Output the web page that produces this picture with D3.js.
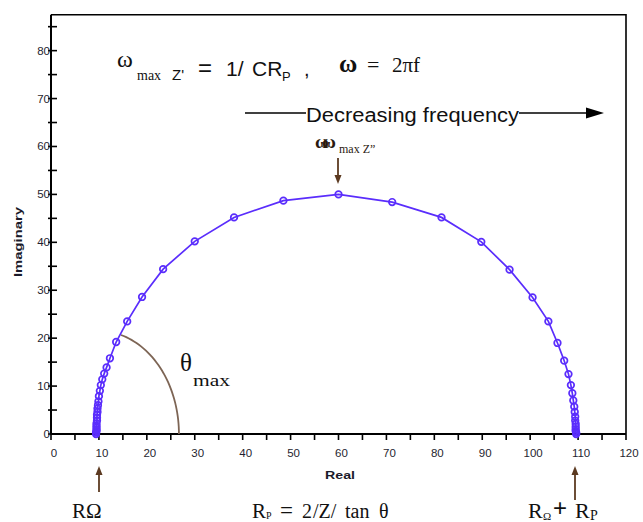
<!DOCTYPE html>
<html>
<head>
<meta charset="utf-8">
<script src="https://cdn.jsdelivr.net/npm/d3@7"></script>
<style>
  html, body { margin: 0; padding: 0; background: #fff; }
  svg { display: block; }
  .serif { font-family: "Liberation Serif", "Times New Roman", serif; }
  .sans { font-family: "Liberation Sans", Arial, sans-serif; }
</style>
</head>
<body>
<svg id="chart" width="643" height="522"></svg>
<script>
// Nyquist plot: real vs imaginary impedance, high frequency on the left
const realZ = [
  9.4, 9.4, 9.5, 9.5, 9.5, 9.5, 9.5, 9.6, 9.6, 9.6, 9.7, 9.7, 9.8, 9.9,
  10.0, 10.2, 10.4, 10.7, 11.1, 11.6, 12.3, 13.6, 15.9, 19.0, 23.4, 30.0,
  38.2, 48.5, 60.0, 71.2, 81.5, 89.8, 95.7, 100.5, 103.8, 105.7, 107.1,
  108.0, 108.5, 108.8, 109.0, 109.2, 109.3, 109.4, 109.4, 109.5, 109.5,
  109.5, 109.5, 109.6, 109.6
];
const imagZ = [
  0.0, 0.3, 0.6, 0.9, 1.3, 1.7, 2.2, 2.8, 3.4, 4.0, 4.6, 5.3, 6.0, 6.8,
  7.9, 9.0, 10.2, 11.4, 12.6, 13.9, 15.8, 19.2, 23.5, 28.6, 34.4, 40.2,
  45.2, 48.7, 50.0, 48.4, 45.2, 40.1, 34.3, 28.5, 23.5, 19.0, 15.3,
  12.5, 10.2, 8.5, 7.0, 5.7, 4.6, 3.6, 2.8, 2.1, 1.5, 1.0, 0.6, 0.3, 0.0
];

const xTicks = d3.range(0, 121, 5);
const yTicks = d3.range(0, 86, 5);
const xLabels = d3.range(0, 121, 10);
const yLabels = d3.range(0, 81, 10);

// angle marker arc around R-omega
const arcCenter = [10, 0];
const arcRadii = [16.7, 21.5];
const arcSweepDeg = 74;

const blue = "#5a2dfc";
const brown = "#5c3a21";

const svg = d3.select("#chart");
const x = d3.scaleLinear().domain([0, 120]).range([51, 626]);
const y = d3.scaleLinear().domain([0, 87.5]).range([434, 14.7]);

// frame (top and right)
svg.append("path")
  .attr("d", `M${x(0)},${y(87.5)}H${x(120)}V${y(0)}`)
  .attr("fill", "none").attr("stroke", "#000").attr("stroke-width", 1.6);

// x axis
svg.append("line").attr("x1", x(0)).attr("x2", x(120)).attr("y1", y(0)).attr("y2", y(0))
  .attr("stroke", "#000").attr("stroke-width", 2);
svg.selectAll(".xt").data(xTicks).join("line").attr("class", "xt")
  .attr("x1", d => x(d)).attr("x2", d => x(d))
  .attr("y1", y(0)).attr("y2", y(0) + 6)
  .attr("stroke", "#000").attr("stroke-width", 1.6);
svg.selectAll(".xl").data(xLabels).join("text").attr("class", "xl sans")
  .attr("x", d => x(d) + 3).attr("y", 457)
  .attr("text-anchor", "middle").attr("font-size", 11.5).attr("fill", "#1f1f30")
  .text(d => d);

// y axis
svg.append("line").attr("x1", x(0)).attr("x2", x(0)).attr("y1", y(0)).attr("y2", y(87.5))
  .attr("stroke", "#000").attr("stroke-width", 2);
svg.selectAll(".yt").data(yTicks).join("line").attr("class", "yt")
  .attr("x1", x(0) - 3).attr("x2", x(0) + 6)
  .attr("y1", d => y(d)).attr("y2", d => y(d))
  .attr("stroke", "#000").attr("stroke-width", 1.6);
svg.selectAll(".yl").data(yLabels).join("text").attr("class", "yl sans")
  .attr("x", x(0) - 1).attr("y", d => y(d) + 4)
  .attr("text-anchor", "end").attr("font-size", 11.5).attr("fill", "#1f1f30")
  .text(d => d);

// axis titles
svg.append("text").attr("class", "sans")
  .attr("transform", "translate(22,242) rotate(-90)")
  .attr("text-anchor", "middle").attr("font-size", 11).attr("font-weight", "bold")
  .attr("textLength", 70).attr("lengthAdjust", "spacingAndGlyphs")
  .attr("fill", "#1a1a2a").text("Imaginary");
svg.append("text").attr("class", "sans")
  .attr("x", 340).attr("y", 479)
  .attr("text-anchor", "middle").attr("font-size", 11).attr("font-weight", "bold")
  .attr("textLength", 30).attr("lengthAdjust", "spacingAndGlyphs")
  .attr("fill", "#1a1a2a").text("Real");

// theta arc
const arcPts = d3.range(0, arcSweepDeg + 0.1, 2).map(a => {
  const t = a * Math.PI / 180;
  return [x(arcCenter[0] + arcRadii[0] * Math.cos(t)), y(arcCenter[1] + arcRadii[1] * Math.sin(t))];
});
svg.append("path").attr("d", d3.line()(arcPts))
  .attr("fill", "none").attr("stroke", "#7d6555").attr("stroke-width", 1.8);

// impedance curve
const pts = realZ.map((r, i) => [r, imagZ[i]]);
svg.append("path")
  .attr("d", d3.line().x(d => x(d[0])).y(d => y(d[1]))(pts))
  .attr("fill", "none").attr("stroke", blue).attr("stroke-width", 1.7);
svg.selectAll(".pt").data(pts).join("circle").attr("class", "pt")
  .attr("cx", d => x(d[0])).attr("cy", d => y(d[1])).attr("r", 3.3)
  .attr("fill", "none").attr("stroke", blue).attr("stroke-width", 1.7);

// arrow helper
function arrow(x1, y1, x2, y2, color, head, half, width) {
  const ang = Math.atan2(y2 - y1, x2 - x1);
  const bx = x2 - head * Math.cos(ang), by = y2 - head * Math.sin(ang);
  svg.append("line").attr("x1", x1).attr("y1", y1).attr("x2", bx).attr("y2", by)
    .attr("stroke", color).attr("stroke-width", width);
  const px = -Math.sin(ang) * half, py = Math.cos(ang) * half;
  svg.append("path")
    .attr("d", `M${x2},${y2}L${bx + px},${by + py}L${bx - px},${by - py}Z`)
    .attr("fill", color);
}

// decreasing frequency arrow
svg.append("line").attr("x1", 245).attr("x2", 306).attr("y1", 113).attr("y2", 113)
  .attr("stroke", "#000").attr("stroke-width", 1.6);
arrow(519, 113, 604, 113, "#000", 18, 5.5, 1.6);
svg.append("text").attr("class", "sans")
  .attr("x", 306).attr("y", 122).attr("font-size", 20)
  .attr("textLength", 213).attr("lengthAdjust", "spacingAndGlyphs")
  .attr("fill", "#111").text("Decreasing frequency");

// marker arrows
arrow(338, 158, 338, 184, brown, 9, 3.5, 1.8);
arrow(99, 492, 99, 466, brown, 9, 3.5, 1.8);
arrow(575, 500, 575, 466, brown, 9, 3.5, 1.8);

// top formula
const f1 = svg.append("text").attr("fill", "#111");
f1.append("tspan").attr("class", "serif").attr("x", 117).attr("y", 67).attr("font-size", 24).text("ω");
f1.append("tspan").attr("class", "serif").attr("x", 137).attr("y", 80).attr("font-size", 14).text("max");
f1.append("tspan").attr("class", "sans").attr("x", 172).attr("y", 80).attr("font-size", 15).text("Z'");
f1.append("tspan").attr("class", "sans").attr("x", 198).attr("y", 76).attr("font-size", 24).text("=");
f1.append("tspan").attr("class", "sans").attr("x", 226).attr("y", 76).attr("font-size", 21).text("1/");
f1.append("tspan").attr("class", "sans").attr("x", 252).attr("y", 76).attr("font-size", 21).text("CR");
f1.append("tspan").attr("class", "sans").attr("x", 282).attr("y", 81).attr("font-size", 13).text("P");
f1.append("tspan").attr("class", "sans").attr("x", 304).attr("y", 76).attr("font-size", 20).text(",");

const f2 = svg.append("text").attr("class", "serif").attr("fill", "#111");
f2.append("tspan").attr("x", 339).attr("y", 72).attr("font-size", 25).attr("font-weight", "bold").text("ω");
f2.append("tspan").attr("x", 367).attr("y", 72).attr("font-size", 22).text("=");
f2.append("tspan").attr("x", 392).attr("y", 72).attr("font-size", 21).text("2πf");

// peak label
const f3 = svg.append("text").attr("class", "serif").attr("fill", "#2b1a10");
f3.append("tspan").attr("x", 315).attr("y", 148).attr("font-size", 19).attr("font-weight", "bold")
  .attr("letter-spacing", -7).text("ωω");
f3.append("tspan").attr("x", 339).attr("y", 153).attr("font-size", 12).text("max Z\u201D");

// theta max label
const f4 = svg.append("text").attr("class", "serif").attr("fill", "#111");
f4.append("tspan").attr("x", 180).attr("y", 371).attr("font-size", 25).text("θ");
f4.append("tspan").attr("x", 193).attr("y", 386).attr("font-size", 16)
  .attr("textLength", 37).attr("lengthAdjust", "spacingAndGlyphs").text("max");

// bottom labels
svg.append("text").attr("class", "serif").attr("x", 72).attr("y", 518)
  .attr("font-size", 21).attr("fill", "#111").text("RΩ");

const f5 = svg.append("text").attr("class", "serif").attr("fill", "#111");
f5.append("tspan").attr("x", 252).attr("y", 518).attr("font-size", 21).text("R");
f5.append("tspan").attr("x", 266).attr("y", 519).attr("font-size", 10).text("P");
f5.append("tspan").attr("x", 280).attr("y", 518).attr("font-size", 23).text("=");
f5.append("tspan").attr("x", 302).attr("y", 518).attr("font-size", 20).text("2");
f5.append("tspan").attr("x", 313).attr("y", 518).attr("font-size", 20).text("/Z/");
f5.append("tspan").attr("x", 345).attr("y", 518).attr("font-size", 20).text("tan");
f5.append("tspan").attr("x", 379).attr("y", 518).attr("font-size", 20).text("θ");

const f6 = svg.append("text").attr("fill", "#111");
f6.append("tspan").attr("class", "serif").attr("x", 528).attr("y", 518).attr("font-size", 22).text("R");
f6.append("tspan").attr("class", "serif").attr("x", 543).attr("y", 520).attr("font-size", 11).text("Ω");
f6.append("tspan").attr("class", "sans").attr("x", 553).attr("y", 516).attr("font-size", 24).text("+");
f6.append("tspan").attr("class", "serif").attr("x", 575).attr("y", 518).attr("font-size", 22).text("R");
f6.append("tspan").attr("class", "serif").attr("x", 590).attr("y", 520).attr("font-size", 14).text("P");
</script>
</body>
</html>
